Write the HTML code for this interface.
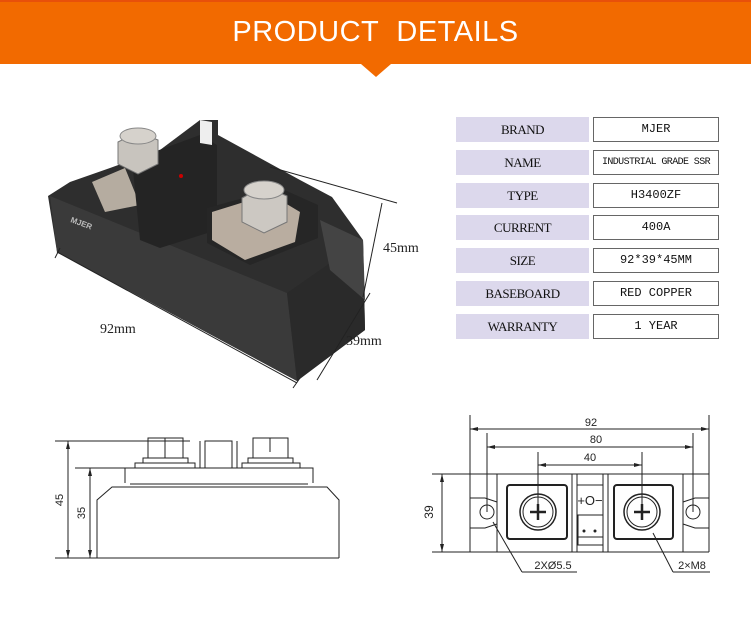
<!DOCTYPE html>
<html><head><meta charset="utf-8"><style>
html,body{margin:0;padding:0;background:#fff;width:751px;height:624px;overflow:hidden;font-family:"Liberation Sans",sans-serif}
.hdr{position:absolute;left:0;top:0;width:751px;height:64px;background:#f26a00;border-top:2px solid #e8500a;box-sizing:border-box}
.hdr span{position:absolute;left:0;width:751px;top:14px;text-align:center;color:#fff;font-size:29px;letter-spacing:0.5px}
.tri{position:absolute;left:361px;top:64px;width:0;height:0;border-left:15px solid transparent;border-right:15px solid transparent;border-top:13px solid #f26a00}
.r{position:absolute;height:25px;line-height:25px;text-align:center;font-family:"Liberation Serif",serif;font-size:13px;color:#111;white-space:nowrap}
.l{left:456px;width:133px;background:#dcd8ec;letter-spacing:-0.5px}
.v{left:593px;width:124px;border:1px solid #666;height:23px;line-height:23px;font-family:"Liberation Mono",monospace;font-size:12px;overflow:hidden}
</style></head><body>
<div class="hdr"><span>PRODUCT&nbsp; DETAILS</span></div>
<div class="tri"></div>

<div class="r l" style="top:117px">BRAND</div><div class="r v" style="top:117px">MJER</div>
<div class="r l" style="top:150px">NAME</div><div class="r v" style="top:150px;font-size:10px;letter-spacing:-0.6px">INDUSTRIAL GRADE SSR</div>
<div class="r l" style="top:183px">TYPE</div><div class="r v" style="top:183px">H3400ZF</div>
<div class="r l" style="top:215px">CURRENT</div><div class="r v" style="top:215px">400A</div>
<div class="r l" style="top:248px">SIZE</div><div class="r v" style="top:248px">92*39*45MM</div>
<div class="r l" style="top:281px">BASEBOARD</div><div class="r v" style="top:281px">RED COPPER</div>
<div class="r l" style="top:314px">WARRANTY</div><div class="r v" style="top:314px">1 YEAR</div>

<svg width="751" height="624" style="position:absolute;left:0;top:0" xmlns="http://www.w3.org/2000/svg">
<!-- photo -->
<polygon points="48,196 70,182 110,168 160,150 200,120 218,120 218,135 300,180 332,197 363,240 365,330 297,381 57,252" fill="#2e2e2e"/>
<polygon points="50,196 287,293 297,381 57,252" fill="#3a3a3a"/>
<polygon points="287,293 363,240 365,330 297,381" fill="#2a2a2a"/>
<polygon points="320,220 363,240 365,300 330,270" fill="#444"/>
<polygon points="92,182 125,168 140,205 105,212" fill="#b5aca0"/>
<polygon points="132,160 200,135 217,145 217,230 160,248 140,240" fill="#242424"/>
<polygon points="200,120 212,122 212,145 200,143" fill="#eee"/>
<polygon points="207,208 280,188 318,205 318,238 250,265 207,243" fill="#262626"/>
<polygon points="212,212 270,194 300,212 295,242 245,260 212,240" fill="#b9ada0"/>
<polygon points="118,142 138,132 158,140 158,164 138,174 118,164" fill="#c8c4be" stroke="#777"/>
<polygon points="242,198 264,186 287,196 287,222 264,233 242,222" fill="#ccc8c2" stroke="#777"/>
<ellipse cx="264" cy="190" rx="20" ry="9" fill="#d6d2cc" stroke="#888"/>
<ellipse cx="138" cy="136" rx="18" ry="8" fill="#d6d2cc" stroke="#888"/>
<circle cx="181" cy="176" r="2" fill="#c00"/>
<text x="70" y="222" font-size="8" fill="#bbb" font-weight="bold" transform="rotate(20 70 222)">MJER</text>
<g stroke="#222" stroke-width="1" fill="none">
<line x1="57" y1="252" x2="297" y2="383"/><line x1="55" y1="258" x2="60" y2="248"/><line x1="293" y1="388" x2="300" y2="378"/>
<line x1="270" y1="167" x2="397" y2="203"/><line x1="382" y1="203" x2="363" y2="297"/><line x1="370" y1="293" x2="317" y2="380"/>
</g>
<text x="100" y="333" font-family="Liberation Serif" font-size="14" fill="#222">92mm</text>
<text x="383" y="252" font-family="Liberation Serif" font-size="14" fill="#222">45mm</text>
<text x="346" y="345" font-family="Liberation Serif" font-size="14" fill="#222">39mm</text>

<!-- side drawing -->
<g stroke="#222" stroke-width="1" fill="none">
<line x1="55" y1="441" x2="190" y2="441"/><line x1="75" y1="468" x2="125" y2="468"/>
<line x1="55" y1="558" x2="339" y2="558"/>
<line x1="68" y1="441" x2="68" y2="558"/><line x1="90" y1="468" x2="90" y2="558"/>
<polyline points="97,558 97,500 112,487 327,487 339,500 339,558"/>
<polyline points="125,483 125,468 313,468 313,483"/>
<line x1="130" y1="484" x2="308" y2="484"/>
<rect x="148" y="438" width="35" height="20"/><line x1="165" y1="438" x2="165" y2="458"/>
<rect x="143" y="458" width="45" height="5"/><rect x="135" y="463" width="60" height="5"/>
<rect x="205" y="441" width="27" height="27"/><line x1="200" y1="441" x2="200" y2="468"/><line x1="237" y1="441" x2="237" y2="468"/>
<rect x="253" y="438" width="35" height="20"/><line x1="270" y1="438" x2="270" y2="452"/>
<rect x="248" y="458" width="45" height="5"/><rect x="242" y="463" width="58" height="5"/>
</g>
<text x="63" y="500" font-size="11" fill="#222" transform="rotate(-90 63 500)" text-anchor="middle">45</text>
<text x="85" y="513" font-size="11" fill="#222" transform="rotate(-90 85 513)" text-anchor="middle">35</text>

<!-- top drawing -->
<g stroke="#222" stroke-width="1" fill="none">
<line x1="470" y1="415" x2="470" y2="552"/><line x1="709" y1="415" x2="709" y2="552"/>
<line x1="470" y1="429" x2="709" y2="429"/>
<line x1="487" y1="433" x2="487" y2="512"/><line x1="693" y1="433" x2="693" y2="512"/>
<line x1="487" y1="447" x2="693" y2="447"/>
<line x1="538" y1="452" x2="538" y2="512"/><line x1="642" y1="452" x2="642" y2="512"/>
<line x1="538" y1="465" x2="642" y2="465"/>
<line x1="432" y1="474" x2="709" y2="474"/><line x1="432" y1="552" x2="709" y2="552"/>
<line x1="442" y1="474" x2="442" y2="552"/>
<line x1="497" y1="474" x2="497" y2="552"/><line x1="683" y1="474" x2="683" y2="552"/>
<polyline points="470,498 485,498 497,502"/><polyline points="470,528 485,528 497,524"/>
<polyline points="709,498 695,498 683,502"/><polyline points="709,528 695,528 683,524"/>
<circle cx="487" cy="512" r="7"/><circle cx="693" cy="512" r="7"/>
<rect x="507" y="485" width="60" height="54" rx="3" stroke-width="2"/>
<rect x="614" y="485" width="59" height="54" rx="3" stroke-width="2"/>
<circle cx="538" cy="512" r="18" stroke-width="1.5"/><circle cx="538" cy="512" r="15"/>
<circle cx="642" cy="512" r="18" stroke-width="1.5"/><circle cx="642" cy="512" r="15"/>
<line x1="572" y1="474" x2="572" y2="552"/><line x1="608" y1="474" x2="608" y2="552"/>
<line x1="577" y1="474" x2="577" y2="552"/><line x1="603" y1="474" x2="603" y2="552"/>
<line x1="577" y1="485" x2="603" y2="485"/>
<rect x="578" y="515" width="25" height="30"/><line x1="578" y1="537" x2="603" y2="537"/>
<line x1="493" y1="522" x2="522" y2="572"/><line x1="522" y1="572" x2="577" y2="572"/>
<line x1="653" y1="533" x2="673" y2="572"/><line x1="673" y1="572" x2="710" y2="572"/>
</g>
<g stroke="#222" stroke-width="2.5">
<line x1="530" y1="512" x2="546" y2="512"/><line x1="538" y1="504" x2="538" y2="520"/>
<line x1="634" y1="512" x2="650" y2="512"/><line x1="642" y1="504" x2="642" y2="520"/>
</g>
<g fill="#222">
<polygon points="470,429 478,427 478,431"/><polygon points="709,429 701,427 701,431"/>
<polygon points="487,447 495,445 495,449"/><polygon points="693,447 685,445 685,449"/>
<polygon points="538,465 546,463 546,467"/><polygon points="642,465 634,463 634,467"/>
<polygon points="442,474 440,482 444,482"/><polygon points="442,552 440,544 444,544"/>
<polygon points="68,441 66,449 70,449"/><polygon points="68,558 66,550 70,550"/>
<polygon points="90,468 88,476 92,476"/><polygon points="90,558 88,550 92,550"/>
<circle cx="584" cy="531" r="1.5"/><circle cx="595" cy="531" r="1.5"/>
</g>
<g font-size="11" fill="#222" text-anchor="middle">
<text x="591" y="426">92</text><text x="596" y="443">80</text><text x="590" y="461">40</text>
<text x="590" y="505" font-size="13">+O−</text>
<text x="553" y="569">2XØ5.5</text><text x="692" y="569">2×M8</text>
<text x="433" y="512" transform="rotate(-90 433 512)" font-size="12">39</text>
</g>
</svg>
</body></html>
